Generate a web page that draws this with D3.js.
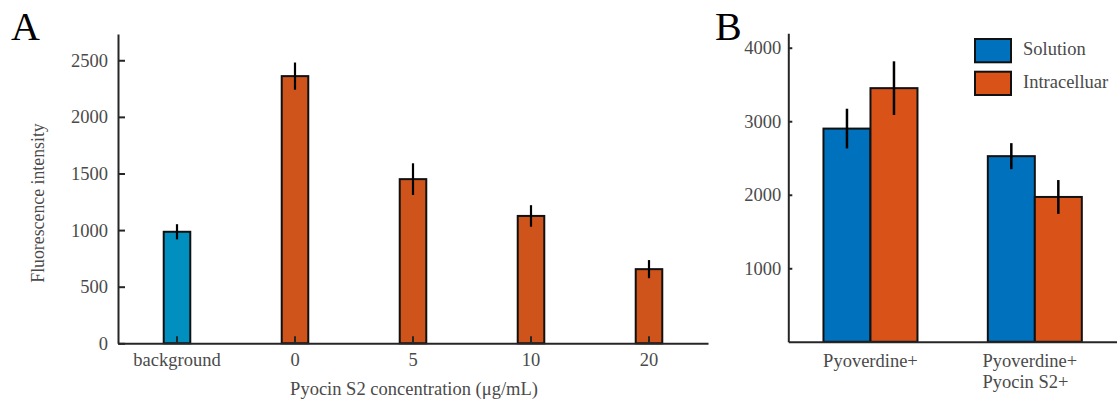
<!DOCTYPE html>
<html><head><meta charset="utf-8">
<script src="https://cdn.jsdelivr.net/npm/d3@7"></script>
<style>
body{margin:0;background:#fff;}
text{font-family:"Liberation Serif","Times New Roman",serif;}
</style></head>
<body><svg id="c" width="1117" height="401"></svg>
<script>
// ---- Panel A data ----
const catsA = ["background", "0", "5", "10", "20"];
const valsA = [985, 2360, 1450, 1125, 655];
const errA = [67, 120, 140, 95, 80];
const colorsA = ["#008FBF", "#CF541C", "#CF541C", "#CF541C", "#CF541C"];
const ticksA = [0, 500, 1000, 1500, 2000, 2500];
// ---- Panel B data ----
const groupsB = ["Pyoverdine+", "Pyoverdine+\nPyocin S2+"];
const seriesB = ["Solution", "Intracelluar"];
const solutionVals = [2900, 2525];
const solutionErr = [270, 177];
const intraVals = [3450, 1970];
const intraErr = [365, 230];
const colorsB = ["#0072BD", "#D95319"];
const ticksB = [1000, 2000, 3000, 4000];

const svg = d3.select("#c");
const axisCol = "#262626", txtCol = "#4a4a4a";
const fs = "18.5px";

// ===== Panel A =====
const gA = svg.append("g");
const xA = d3.scaleBand().domain(catsA).range([118, 708]).padding(0);
const yA = d3.scaleLinear().domain([0, 2732]).range([343.3, 34]);
const bwA = xA.bandwidth() * 0.225;

const yAxA = gA.append("g").attr("transform", "translate(118,0)")
  .call(d3.axisLeft(yA).tickValues(ticksA).tickFormat(d3.format("d")).tickSizeInner(-7).tickSizeOuter(0).tickPadding(10));
const xAxA = gA.append("g").attr("transform", "translate(0,343.3)")
  .call(d3.axisBottom(xA).tickSizeInner(-7).tickSizeOuter(0).tickPadding(10));

[yAxA, xAxA].forEach(ax => {
  ax.select(".domain").attr("stroke", axisCol).attr("stroke-width", 2);
  ax.selectAll(".tick line").attr("stroke", axisCol).attr("stroke-width", 2);
  ax.selectAll(".tick text").attr("fill", txtCol).style("font-size", fs).style("font-family", "Liberation Serif");
});

gA.selectAll("rect.bar").data(catsA).enter().append("rect")
  .attr("x", d => xA(d) + xA.bandwidth() / 2 - bwA / 2)
  .attr("width", bwA)
  .attr("y", (d, i) => yA(valsA[i]))
  .attr("height", (d, i) => yA(0) - yA(valsA[i]))
  .attr("fill", (d, i) => colorsA[i])
  .attr("stroke", "#111").attr("stroke-width", 2);

xAxA.raise();
gA.selectAll("line.err").data(catsA).enter().append("line")
  .attr("x1", d => xA(d) + xA.bandwidth() / 2).attr("x2", d => xA(d) + xA.bandwidth() / 2)
  .attr("y1", (d, i) => yA(valsA[i] + errA[i])).attr("y2", (d, i) => yA(valsA[i] - errA[i]))
  .attr("stroke", "#000").attr("stroke-width", 2.2);

gA.append("text").attr("transform", "translate(44,203) rotate(-90)")
  .attr("text-anchor", "middle").attr("fill", txtCol).style("font-size", "17.8px")
  .text("Fluorescence intensity");
gA.append("text").attr("x", 414).attr("y", 395).attr("text-anchor", "middle")
  .attr("fill", txtCol).style("font-size", fs).text("Pyocin S2 concentration (μg/mL)");
gA.append("text").attr("x", 11).attr("y", 40).attr("fill", "#000").style("font-size", "40px").text("A");

// ===== Panel B =====
const gB = svg.append("g");
const xB = d3.scaleBand().domain(groupsB).range([788.3, 1117]).padding(0);
const x1B = d3.scaleBand().domain(seriesB).range([xB.bandwidth() * 0.214, xB.bandwidth() * 0.786]).padding(0);
const yB = d3.scaleLinear().domain([0, 4196]).range([341.8, 33.3]);

const yAxB = gB.append("g").attr("transform", "translate(788.3,0)")
  .call(d3.axisLeft(yB).tickValues(ticksB).tickFormat(d3.format("d")).tickSizeInner(-4).tickSizeOuter(0).tickPadding(7));
const xAxB = gB.append("g").attr("transform", "translate(0,341.8)")
  .call(d3.axisBottom(xB).tickSize(0).tickFormat(""));
[yAxB, xAxB].forEach(ax => {
  ax.select(".domain").attr("stroke", axisCol).attr("stroke-width", 2);
  ax.selectAll(".tick line").attr("stroke", axisCol).attr("stroke-width", 2);
  ax.selectAll(".tick text").attr("fill", txtCol).style("font-size", fs).style("font-family", "Liberation Serif");
});

const seriesData = [
  {name: seriesB[0], vals: solutionVals, err: solutionErr, color: colorsB[0]},
  {name: seriesB[1], vals: intraVals, err: intraErr, color: colorsB[1]}
];
seriesData.forEach(s => {
  gB.selectAll(null).data(groupsB).enter().append("rect")
    .attr("x", d => xB(d) + x1B(s.name))
    .attr("width", x1B.bandwidth())
    .attr("y", (d, i) => yB(s.vals[i]))
    .attr("height", (d, i) => yB(0) - yB(s.vals[i]))
    .attr("fill", s.color).attr("stroke", "#111").attr("stroke-width", 2);
});
xAxB.raise();
seriesData.forEach(s => {
  gB.selectAll(null).data(groupsB).enter().append("line")
    .attr("x1", d => xB(d) + x1B(s.name) + x1B.bandwidth() / 2)
    .attr("x2", d => xB(d) + x1B(s.name) + x1B.bandwidth() / 2)
    .attr("y1", (d, i) => yB(s.vals[i] + s.err[i]))
    .attr("y2", (d, i) => yB(s.vals[i] - s.err[i]))
    .attr("stroke", "#000").attr("stroke-width", 2.5);
});

groupsB.forEach(g => {
  const lines = g.split("\n");
  const t = gB.append("text").attr("fill", txtCol).style("font-size", fs).attr("text-anchor", "start");
  lines.forEach((ln, k) => t.append("tspan").attr("y", 366.5 + k * 21.8).text(ln));
  let w = 0;
  t.selectAll("tspan").each(function () { w = Math.max(w, this.getComputedTextLength()); });
  const cx = xB(g) + xB.bandwidth() / 2;
  const x0 = lines.length > 1 ? cx - w / 2 - 5 : cx - w / 2;
  t.selectAll("tspan").attr("x", x0);
});

seriesB.forEach((s, i) => {
  gB.append("rect").attr("x", 975).attr("y", 39 + i * 32.7).attr("width", 36).attr("height", 23.3)
    .attr("fill", colorsB[i]).attr("stroke", "#111").attr("stroke-width", 2);
  gB.append("text").attr("x", 1023).attr("y", 55 + i * 32.5).attr("fill", txtCol)
    .style("font-size", fs).text(s);
});
gB.append("text").attr("x", 715).attr("y", 40).attr("fill", "#000").style("font-size", "40px").text("B");
</script>
</body></html>
